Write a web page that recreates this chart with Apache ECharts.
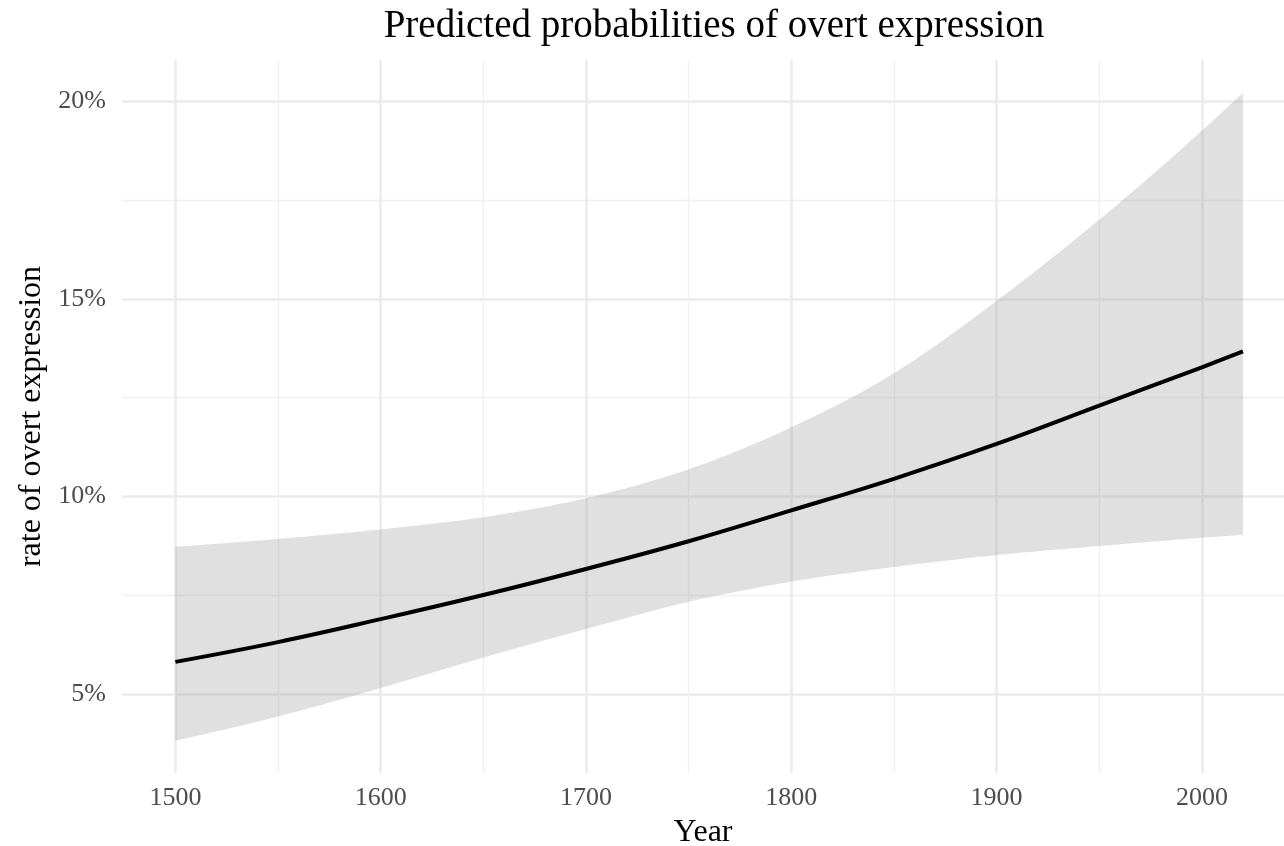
<!DOCTYPE html>
<html>
<head>
<meta charset="utf-8">
<script src="https://cdn.jsdelivr.net/npm/echarts@6/dist/echarts.min.js"></script>
<style>
  html, body { margin: 0; padding: 0; background: #fff; }
  #chart { width: 1284px; height: 846px; }
</style>
</head>
<body>
<div id="chart"></div>
<script>
// values (probabilities)
var years = [1500, 1550, 1600, 1650, 1700, 1750, 1800, 1850, 1900, 1950, 2000, 2020];
var fit   = [0.0582, 0.0632, 0.0690, 0.0751, 0.0817, 0.0887, 0.0965, 0.1045, 0.1133, 0.1230, 0.1327, 0.1367];
var lower = [0.0383, 0.0444, 0.0516, 0.0593, 0.0665, 0.0734, 0.0785, 0.0822, 0.0852, 0.0875, 0.0896, 0.0903];
var upper = [0.0873, 0.0893, 0.0917, 0.0948, 0.0996, 0.1069, 0.1175, 0.1312, 0.1495, 0.1700, 0.1925, 0.2021];

var xMajor = [1500, 1600, 1700, 1800, 1900, 2000];
var xMinor = [1550, 1650, 1750, 1850, 1950];
var yMajor = [0.05, 0.10, 0.15, 0.20];
var yMinor = [0.075, 0.125, 0.175];

var serif = 'Liberation Serif';
var chart = echarts.init(document.getElementById('chart'));

var xmin = 1474, xmax = 2040;
var ymin = 0.0301, ymax = 0.2104;

// smooth edge through pixel points (cubic hermite in x), sampled for drawing
function smoothEdge(p) {
  var n = p.length, h = [], d = [], m = [], out = [];
  for (var i = 0; i < n - 1; i++) {
    h[i] = p[i + 1][0] - p[i][0];
    d[i] = (p[i + 1][1] - p[i][1]) / h[i];
  }
  m[0] = ((2 * h[0] + h[1]) * d[0] - h[0] * d[1]) / (h[0] + h[1]);
  m[n - 1] = ((2 * h[n - 2] + h[n - 3]) * d[n - 2] - h[n - 2] * d[n - 3]) / (h[n - 2] + h[n - 3]);
  for (i = 1; i < n - 1; i++) {
    m[i] = (d[i] * h[i - 1] + d[i - 1] * h[i]) / (h[i - 1] + h[i]);
  }
  for (i = 0; i < n - 1; i++) {
    for (var k = 0; k < 16; k++) {
      var t = k / 16, t2 = t * t, t3 = t2 * t;
      var y = (2 * t3 - 3 * t2 + 1) * p[i][1] + (t3 - 2 * t2 + t) * h[i] * m[i] +
              (-2 * t3 + 3 * t2) * p[i + 1][1] + (t3 - t2) * h[i] * m[i + 1];
      out.push([p[i][0] + t * h[i], y]);
    }
  }
  out.push(p[n - 1]);
  return out;
}

// confidence ribbon: upper edge left->right then lower edge back
function ribbon(params, api) {
  if (params.dataIndex !== 0) return;
  var top = years.map(function (y, i) { return api.coord([y, upper[i]]); });
  var bot = years.map(function (y, i) { return api.coord([y, lower[i]]); });
  var pts = smoothEdge(top).concat(smoothEdge(bot).reverse());
  return {
    type: 'polygon',
    shape: { points: pts },
    style: { fill: '#999999', opacity: 0.3 },
    silent: true
  };
}

var option = {
  animation: false,
  backgroundColor: '#ffffff',
  title: {
    text: 'Predicted probabilities of overt expression',
    left: 709,
    top: 2,
    textAlign: 'center',
    textStyle: { fontFamily: serif, fontSize: 39, fontWeight: 'normal', color: '#000' }
  },
  grid: { left: 122, right: 0, top: 60, bottom: 73, outerBoundsMode: 'none' },
  xAxis: [{
    type: 'value', min: xmin, max: xmax,
    name: 'Year', nameLocation: 'middle', nameGap: 44,
    nameTextStyle: { fontFamily: serif, fontSize: 32, color: '#000' },
    axisLine: { show: false },
    axisTick: { show: false, customValues: xMajor },
    axisLabel: {
      customValues: xMajor, fontFamily: serif, fontSize: 26, color: '#4d4d4d', margin: 12,
      formatter: function (v) { return String(v); }
    },
    splitLine: { show: true, lineStyle: { color: '#ebebeb', width: 2.5 } }
  }, {
    type: 'value', min: xmin, max: xmax,
    axisLine: { show: false },
    axisTick: { show: false, customValues: xMinor },
    axisLabel: { show: false },
    splitLine: { show: true, lineStyle: { color: '#f0f0f0', width: 1.3 } }
  }],
  yAxis: [{
    type: 'value', min: ymin, max: ymax,
    name: 'rate of overt expression', nameLocation: 'middle', nameGap: 56,
    nameTextStyle: { fontFamily: serif, fontSize: 32, color: '#000' },
    axisLine: { show: false },
    axisTick: { show: false, customValues: yMajor },
    axisLabel: {
      customValues: yMajor, fontFamily: serif, fontSize: 26, color: '#4d4d4d', margin: 16,
      formatter: function (v) { return Math.round(v * 100) + '%'; }
    },
    splitLine: { show: true, lineStyle: { color: '#ebebeb', width: 2.5 } }
  }, {
    type: 'value', min: ymin, max: ymax,
    axisLine: { show: false },
    axisTick: { show: false, customValues: yMinor },
    axisLabel: { show: false },
    splitLine: { show: true, lineStyle: { color: '#f0f0f0', width: 1.3 } }
  }],
  series: [{
    name: 'ci',
    type: 'custom',
    renderItem: ribbon,
    data: years.map(function (y, i) { return [y, lower[i], upper[i]]; }),
    encode: { x: 0, y: [1, 2] },
    z: 2
  }, {
    name: 'fit',
    type: 'line',
    data: years.map(function (y, i) { return [y, fit[i]]; }),
    smooth: 0.4,
    symbol: 'none',
    lineStyle: { color: '#000', width: 4 },
    z: 5
  }]
};

chart.setOption(option);
</script>
</body>
</html>
